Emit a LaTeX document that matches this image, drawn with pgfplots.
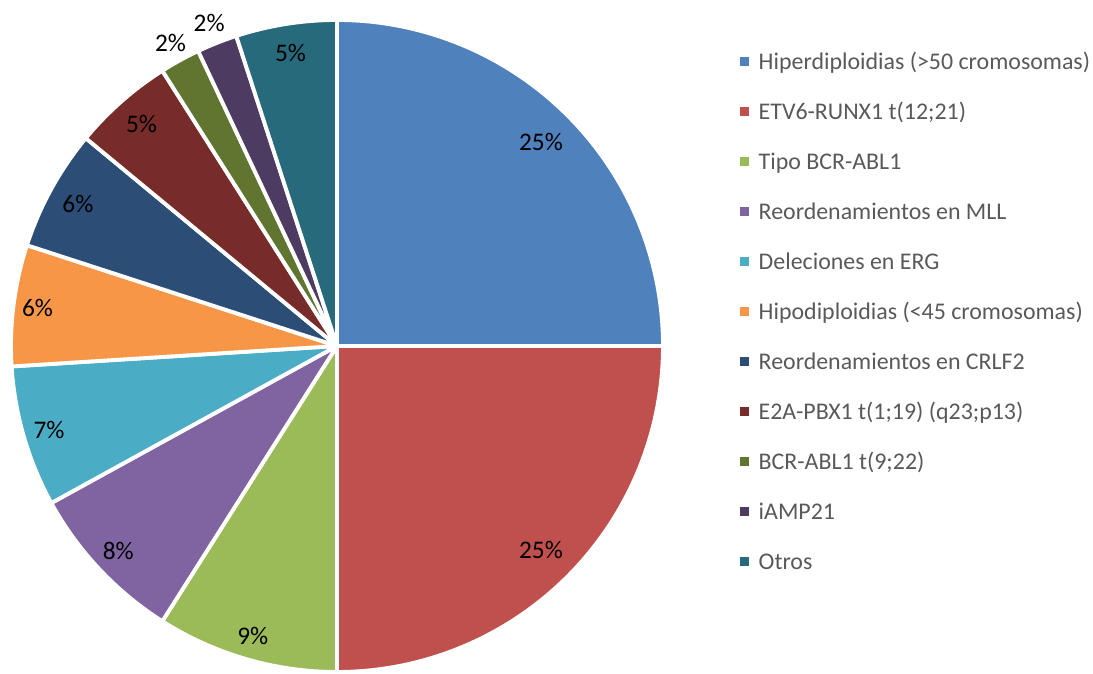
\documentclass[border=0pt]{standalone}
\usepackage{pgfplots}
\pgfplotsset{compat=1.18}
\usepackage{pgfplotstable}
\usepackage{fontspec}
\setmainfont{Carlito}
\definecolor{c1}{HTML}{4F81BD}
\definecolor{c2}{HTML}{C0504D}
\definecolor{c3}{HTML}{9BBB59}
\definecolor{c4}{HTML}{8064A2}
\definecolor{c5}{HTML}{4BACC6}
\definecolor{c6}{HTML}{F79646}
\definecolor{c7}{HTML}{2C4D75}
\definecolor{c8}{HTML}{772C2A}
\definecolor{c9}{HTML}{5F7530}
\definecolor{c10}{HTML}{4D3B62}
\definecolor{c11}{HTML}{276A7C}
\definecolor{legendgray}{HTML}{595959}
\pgfplotstableread[col sep=comma]{
value,color,lr,label
25,c1,0.885,Hiperdiploidias (>50 cromosomas)
25,c2,0.885,ETV6-RUNX1 t(12;21)
9,c3,0.926,Tipo BCR-ABL1
8,c4,0.92,Reordenamientos en MLL
7,c5,0.92,Deleciones en ERG
6,c6,0.926,Hipodiploidias (<45 cromosomas)
6,c7,0.907,Reordenamientos en CRLF2
5,c8,0.907,E2A-PBX1 t(1;19) (q23;p13)
2,c9,1.06,BCR-ABL1 t(9;22)
2,c10,1.065,iAMP21
5,c11,0.91,Otros
}\piedata
\begin{document}
\begin{tikzpicture}[every node/.style={font=\fontsize{6.8}{8}\selectfont}]
\begin{axis}[x=3.26cm,y=3.26cm,
  xmin=-1.0337,xmax=2.319,ymin=-0.997,ymax=1.0613,
  hide axis, clip=false]
\path (rel axis cs:0,0) rectangle (rel axis cs:1,1);
\def\cum{0}
\pgfplotsforeachungrouped \i in {0,...,10}{%
  \pgfplotstablegetelem{\i}{value}\of\piedata \let\v\pgfplotsretval
  \pgfplotstablegetelem{\i}{color}\of\piedata \let\c\pgfplotsretval
  \pgfplotstablegetelem{\i}{lr}\of\piedata \let\lr\pgfplotsretval
  \pgfplotstablegetelem{\i}{label}\of\piedata \let\lab\pgfplotsretval
  \pgfmathsetmacro\a{90-3.6*\cum}%
  \pgfmathsetmacro\b{90-3.6*(\cum+\v)}%
  \pgfmathsetmacro\m{(\a+\b)/2}%
  \pgfmathsetmacro\ax{cos(\a)}%
  \pgfmathsetmacro\ay{sin(\a)}%
  \pgfmathsetmacro\lx{\lr*cos(\m)}%
  \pgfmathsetmacro\lyy{\lr*sin(\m)}%
  \pgfmathsetmacro\ly{(284-50*\i)/326}%
  \pgfmathtruncatemacro\vi{\v}%
  \edef\temp{%
    \noexpand\fill[\c, draw=white, line width=1.1pt, line join=round] (axis cs:0,0) -- (axis cs:\ax,\ay) arc[start angle=\a, end angle=\b, radius=3.26cm] -- cycle;
    \noexpand\node[anchor=base, yshift=-0.085cm, inner sep=0pt, text=black, font=\noexpand\fontsize{7.2}{8}\noexpand\selectfont] at (axis cs:\lx,\lyy) {\vi\noexpand\%};
    \noexpand\node[fill=\c, minimum size=0.09cm, inner sep=0pt] at (axis cs:1.2515,\ly) {};
    \noexpand\node[anchor=base west, yshift=-0.077cm, inner sep=0pt, text=legendgray] at (axis cs:1.2914,\ly) {\lab};
  }%
  \temp
  \pgfmathsetmacro\cum{\cum+\v}%
}
\end{axis}
\end{tikzpicture}
\end{document}
